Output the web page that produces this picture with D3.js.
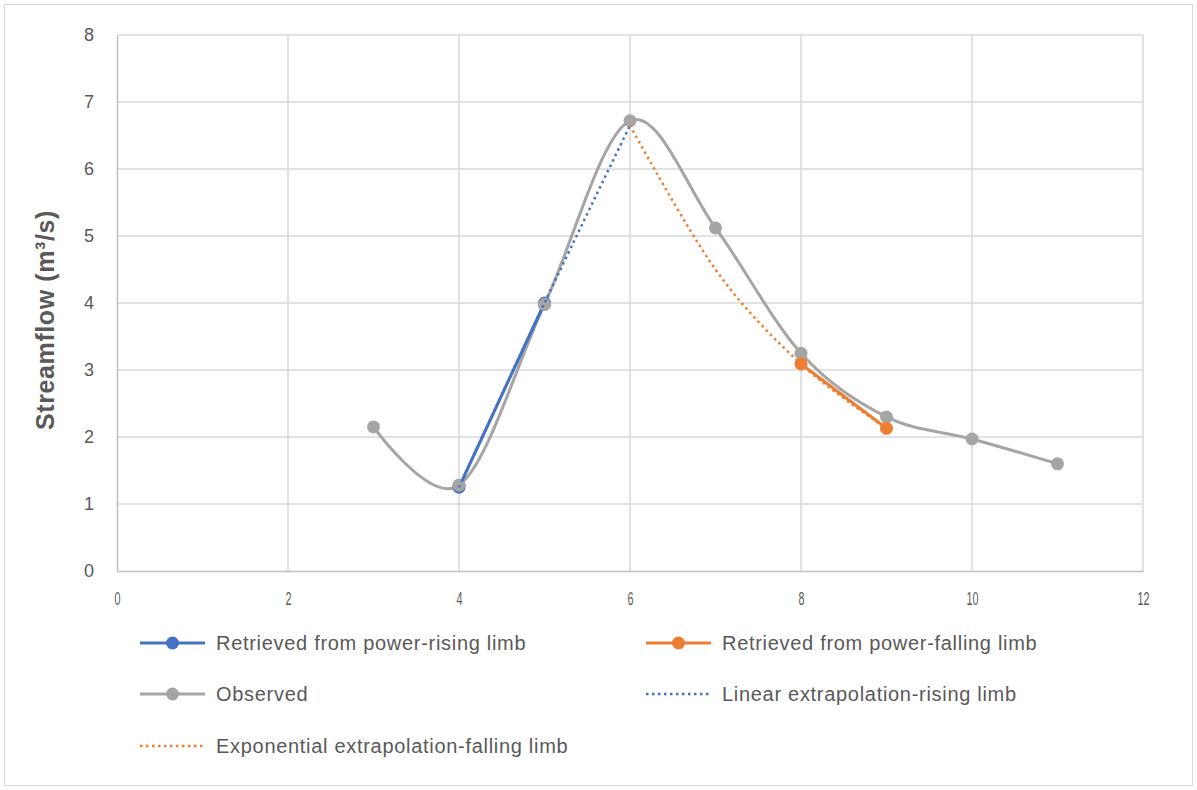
<!DOCTYPE html>
<html><head><meta charset="utf-8">
<script src="https://cdn.jsdelivr.net/npm/d3@7"></script>
<style>body{margin:0;background:#fff;}svg{display:block;}</style>
</head><body>
<script>
// Data
const observedX = [3, 4, 5, 6, 7, 8, 9, 10, 11];
const observedY = [2.15, 1.28, 3.98, 6.72, 5.12, 3.25, 2.30, 1.97, 1.60];
const risingX = [4, 5];
const risingY = [1.25, 4.0];
const fallingX = [8, 9];
const fallingY = [3.09, 2.13];
const linearX = [4, 5, 6];
const linearY = [1.25, 4.0, 6.65];
const expX = [6, 7, 8, 9];
const expY = [6.65, 4.50, 3.09, 2.13];
const xTicks = [0, 2, 4, 6, 8, 10, 12];
const yTicks = [0, 1, 2, 3, 4, 5, 6, 7, 8];
const legendLabels = ["Retrieved from power-rising limb", "Retrieved from power-falling limb", "Observed", "Linear extrapolation-rising limb", "Exponential extrapolation-falling limb"];

const W = 1197, H = 790;
const svg = d3.select("body").append("svg").attr("width", W).attr("height", H);
svg.append("rect").attr("x", 4.5).attr("y", 4.5).attr("width", W - 9).attr("height", H - 9)
  .attr("fill", "#fff").attr("stroke", "#D9D9D9").attr("stroke-width", 1);

const x = d3.scaleLinear().domain([0, 12]).range([117, 1143]);
const y = d3.scaleLinear().domain([0, 8]).range([571, 35]);
const font = "'Liberation Sans', Arial, sans-serif";

// grid
svg.append("g").selectAll("line").data(yTicks.filter(d => d > 0)).join("line")
  .attr("x1", x(0)).attr("x2", x(12)).attr("y1", d => y(d)).attr("y2", d => y(d))
  .attr("stroke", "#D9D9D9").attr("stroke-width", 1.5);
svg.append("g").selectAll("line").data(xTicks.filter(d => d > 0)).join("line")
  .attr("y1", y(0)).attr("y2", y(8)).attr("x1", d => x(d)).attr("x2", d => x(d))
  .attr("stroke", "#D9D9D9").attr("stroke-width", 1.5);

// axes
const xAxis = svg.append("g").attr("transform", `translate(0,${y(0)})`)
  .call(d3.axisBottom(x).tickValues(xTicks).tickSize(0).tickPadding(21).tickFormat(d3.format("d")));
const yAxis = svg.append("g").attr("transform", `translate(${x(0)},0)`)
  .call(d3.axisLeft(y).tickValues(yTicks).tickSize(0).tickPadding(23).tickFormat(d3.format("d")));
[xAxis, yAxis].forEach(a => {
  a.select(".domain").attr("stroke", "#BFBFBF").attr("stroke-width", 1.5);
  a.selectAll("text").attr("fill", "#595959").style("font-family", font).style("font-size", "18px");
});
xAxis.selectAll("text")
  .attr("textLength", d => String(d).length * 6)
  .attr("lengthAdjust", "spacingAndGlyphs");

svg.append("text").attr("transform", `translate(54,320) rotate(-90)`)
  .attr("text-anchor", "middle").attr("fill", "#595959")
  .style("font-family", font).style("font-size", "25px").style("font-weight", "bold")
  .style("letter-spacing", "0.6px")
  .text("Streamflow (m³/s)");

const zip = (xs, ys) => xs.map((v, i) => [v, ys[i]]);
const smooth = d3.line().x(d => x(d[0])).y(d => y(d[1])).curve(d3.curveCardinal.tension(0));

// observed
svg.append("path").datum(zip(observedX, observedY)).attr("d", smooth)
  .attr("fill", "none").attr("stroke", "#A5A5A5").attr("stroke-width", 3);
svg.append("g").selectAll("circle").data(zip(observedX, observedY)).join("circle")
  .attr("cx", d => x(d[0])).attr("cy", d => y(d[1])).attr("r", 6.5).attr("fill", "#A5A5A5");

// rising
svg.append("path").datum(zip(risingX, risingY)).attr("d", smooth)
  .attr("fill", "none").attr("stroke", "#4472C4").attr("stroke-width", 3);
svg.append("g").selectAll("circle").data(zip(risingX, risingY)).join("circle")
  .attr("cx", d => x(d[0])).attr("cy", d => y(d[1])).attr("r", 6.5).attr("fill", "#4472C4");
// falling
svg.append("path").datum(zip(fallingX, fallingY)).attr("d", smooth)
  .attr("fill", "none").attr("stroke", "#ED7D31").attr("stroke-width", 3);
svg.append("g").selectAll("circle").data(zip(fallingX, fallingY)).join("circle")
  .attr("cx", d => x(d[0])).attr("cy", d => y(d[1])).attr("r", 6.5).attr("fill", "#ED7D31");

// observed markers at 4,5 sit above the blue ones in the reference
svg.append("g").selectAll("circle").data(zip(observedX, observedY).filter(d => d[0] === 4 || d[0] === 5)).join("circle")
  .attr("cx", d => x(d[0])).attr("cy", d => y(d[1])).attr("r", 6.5).attr("fill", "#A5A5A5");

// dotted
svg.append("path").datum(zip(linearX, linearY)).attr("d", smooth)
  .attr("fill", "none").attr("stroke", "#4472C4").attr("stroke-width", 2.5)
  .attr("stroke-dasharray", "2.5,3.5");
svg.append("path").datum(zip(expX, expY)).attr("d", smooth)
  .attr("fill", "none").attr("stroke", "#ED7D31").attr("stroke-width", 2.5)
  .attr("stroke-dasharray", "2.5,3.5");

// legend
const legendItems = [
  {label: legendLabels[0], color: "#4472C4", dotted: false, lx: 140, ly: 643},
  {label: legendLabels[1], color: "#ED7D31", dotted: false, lx: 646, ly: 643},
  {label: legendLabels[2], color: "#A5A5A5", dotted: false, lx: 140, ly: 694},
  {label: legendLabels[3], color: "#4472C4", dotted: true, lx: 646, ly: 694},
  {label: legendLabels[4], color: "#ED7D31", dotted: true, lx: 140, ly: 746}
];
const lg = svg.append("g").selectAll("g").data(legendItems).join("g")
  .attr("transform", d => `translate(${d.lx},${d.ly})`);
lg.append("line").attr("x1", 0).attr("x2", 65).attr("y1", 0).attr("y2", 0)
  .attr("stroke", d => d.color).attr("stroke-width", d => d.dotted ? 2.5 : 3)
  .attr("stroke-dasharray", d => d.dotted ? "2.5,3.5" : null);
lg.filter(d => !d.dotted).append("circle").attr("cx", 32.5).attr("cy", 0).attr("r", 6.5).attr("fill", d => d.color);
lg.append("text").attr("x", 76).attr("y", 0).attr("dy", "0.35em").attr("fill", "#595959")
  .style("font-family", font).style("font-size", "20px").style("letter-spacing", "0.7px").text(d => d.label);
</script>
</body></html>
